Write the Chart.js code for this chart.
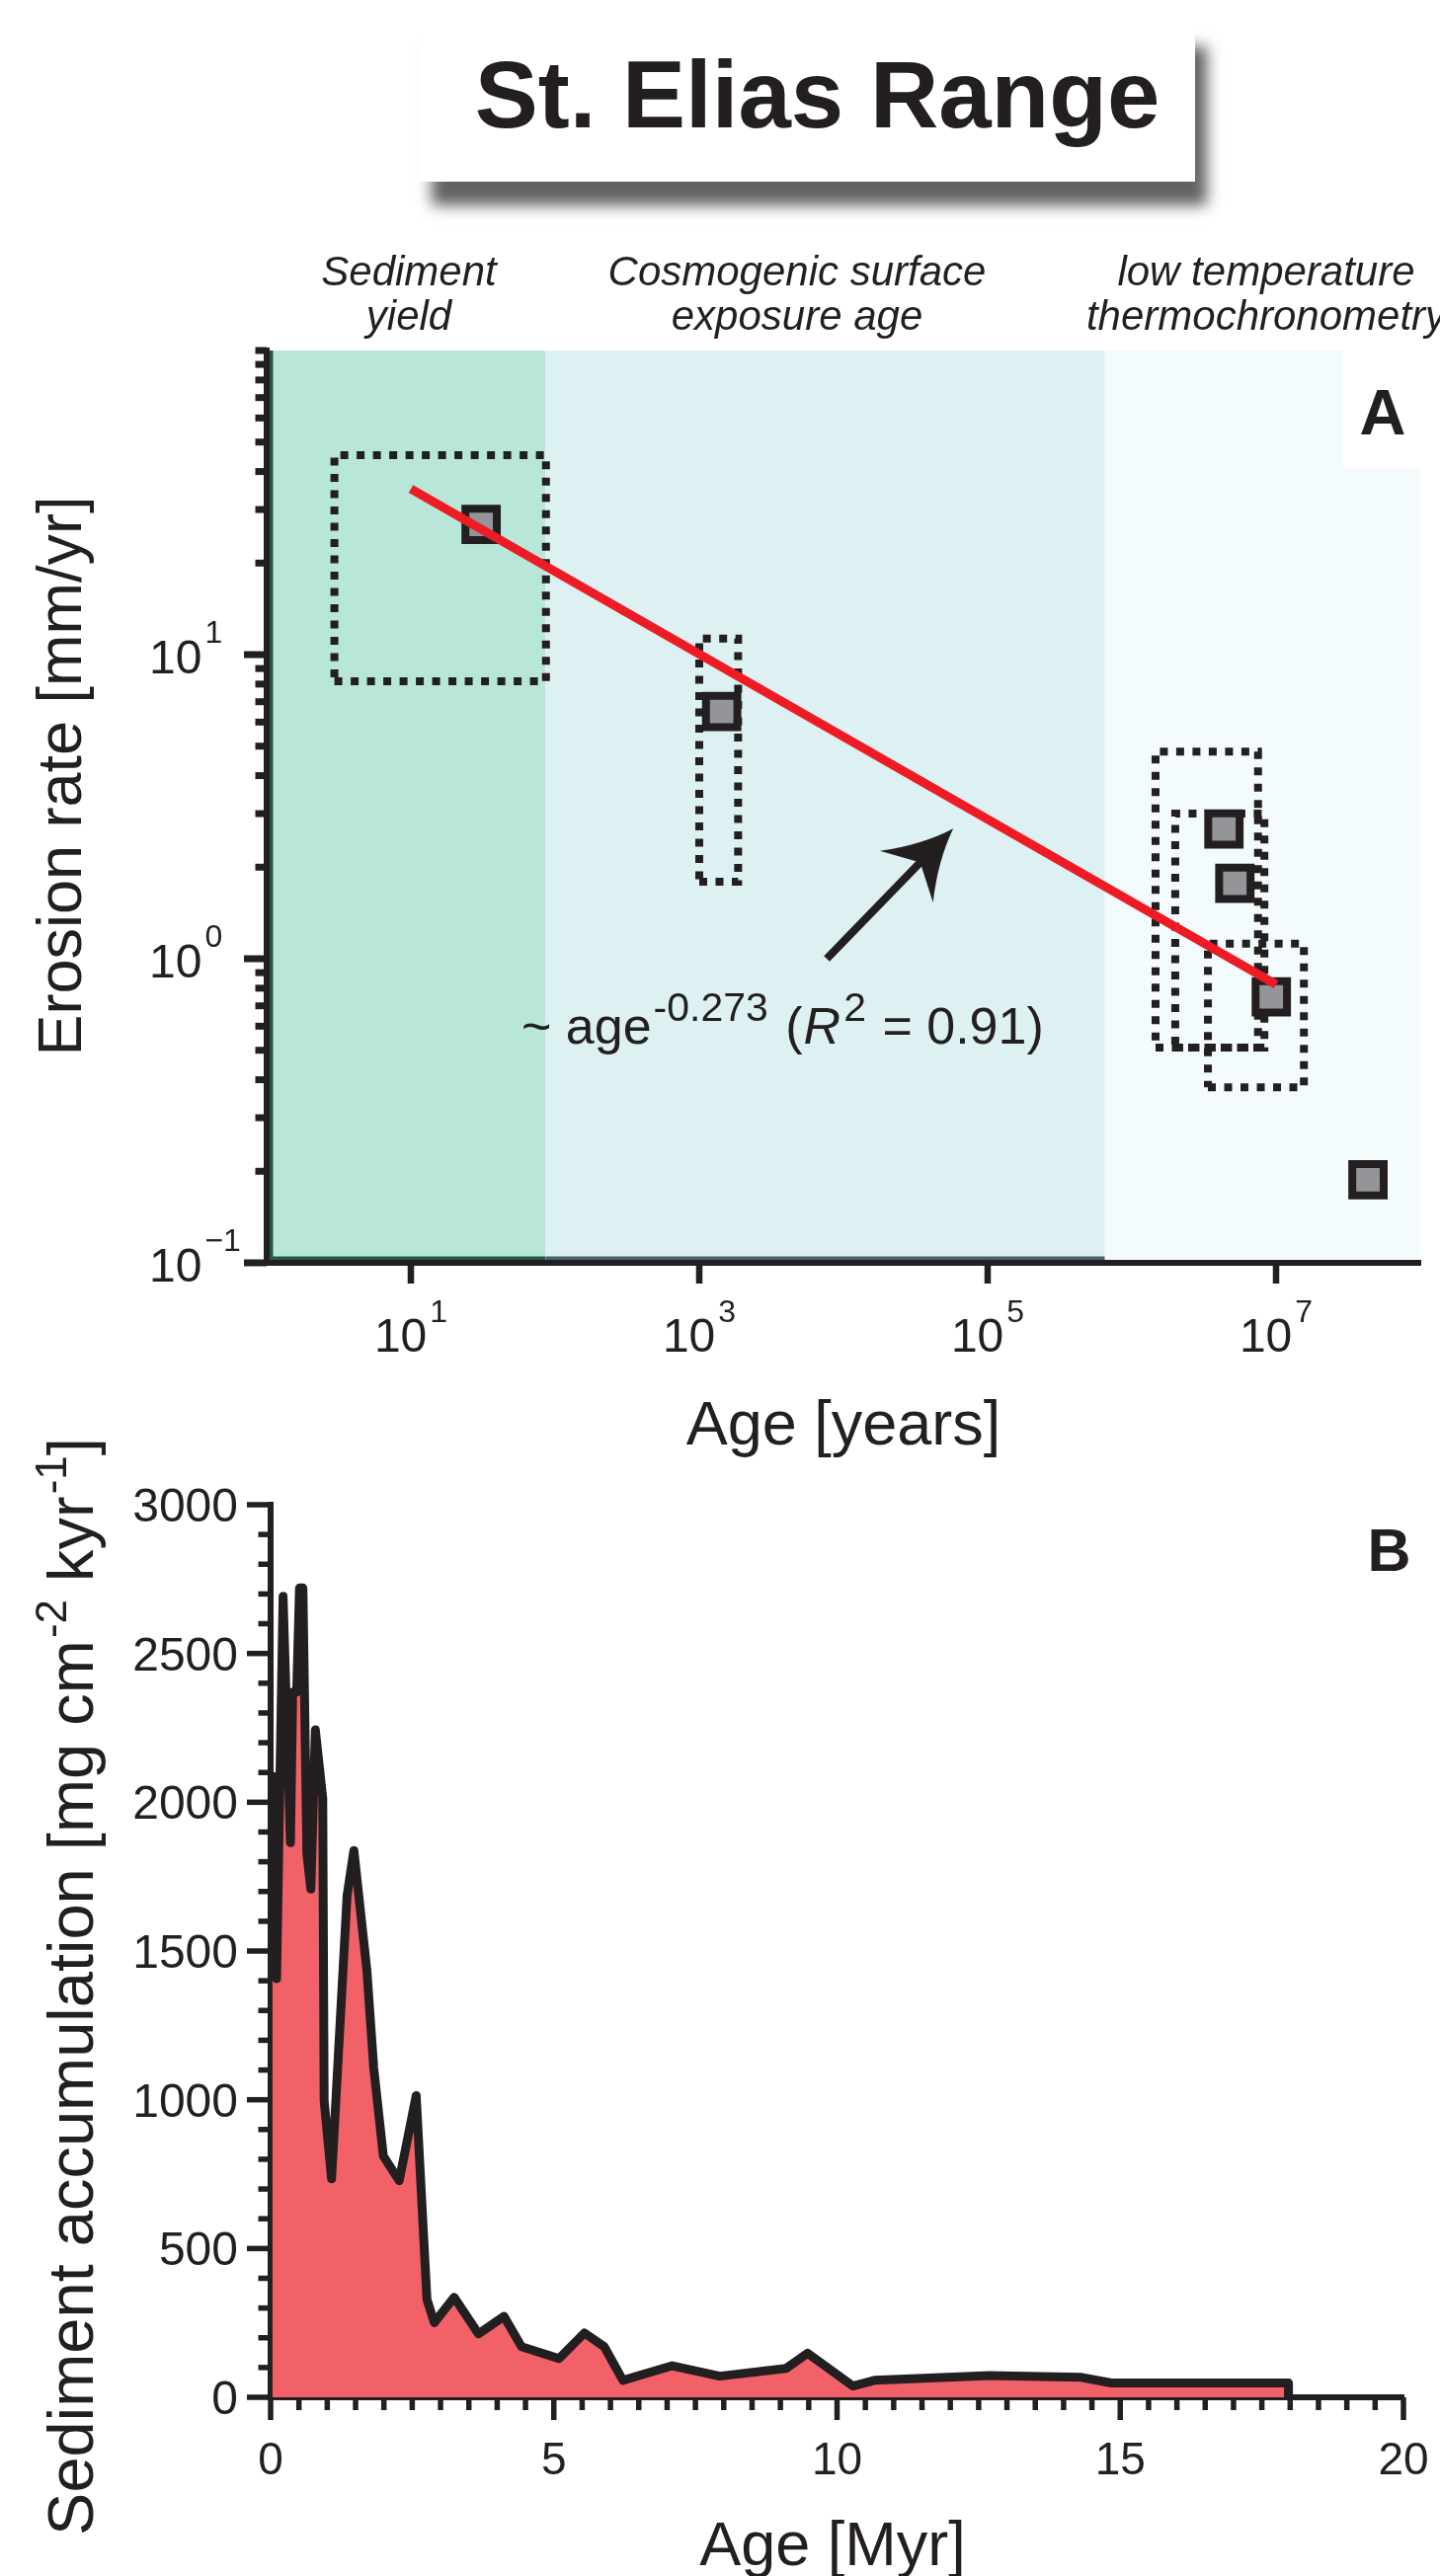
<!DOCTYPE html>
<html>
<head>
<meta charset="utf-8">
<script src="https://cdn.jsdelivr.net/npm/chart.js@4.4.1/dist/chart.umd.min.js"></script>
<style>
html,body{margin:0;padding:0;background:#fff;}
body{width:1458px;height:2609px;position:relative;overflow:hidden;font-family:"Liberation Sans",Arial,Helvetica,sans-serif;}
canvas{position:absolute;left:0;}
#cA{top:0;z-index:1;}
#cB{top:1380px;z-index:2;}
#titleBox{position:absolute;left:425px;top:23px;width:785px;height:161px;background:#fff;box-shadow:12px 24px 14px rgba(0,0,0,0.62);z-index:3;}
#titleBox span{position:absolute;left:20px;right:0;top:25px;text-align:center;font-weight:bold;font-size:96px;line-height:96px;color:#231f20;white-space:nowrap;}
</style>
</head>
<body>
<canvas id="cA" width="1458" height="1480"></canvas>
<canvas id="cB" width="1458" height="1229"></canvas>
<div id="titleBox"><span>St. Elias Range</span></div>
<script>
// ---------------- DATA (panel A) ----------------
const ageYears     = [30.7, 1430, 4.35e6, 5.18e6, 9.27e6, 4.34e7];
const erosionRate  = [26.8, 6.5, 2.67, 1.77, 0.749, 0.1875];
const boxAgeMin    = [2.95, 1000, 1.46e6, 2.0e6, 3.37e6];
const boxAgeMax    = [86.5, 1860, 7.5e6, 8.3e6, 1.56e7];
const boxRateMin   = [8.17, 1.79, 0.51, 0.51, 0.378];
const boxRateMax   = [45.3, 11.3, 4.8, 3.0, 1.12];
const fitAge       = [10, 1e7];
const fitRate      = [35.1, 0.823];
const bandEdges    = [1, 86, 6.5e5, 1e8];
const bandLabels   = [["Sediment","yield"],["Cosmogenic surface","exposure age"],["low temperature","thermochronometry"]];
const xTickExp     = [1, 3, 5, 7];
const yTickExp     = [-1, 0, 1];
const fitText      = ["~ age", "-0.273", " (", "R", "2", " = 0.91)"];
const arrowFrom    = [7660, 1.0];
const arrowTo      = [57700, 2.68];
const eqAnchor     = [58.5, 0.526];

// ---------------- DATA (panel B) ----------------
const ageMyr   = [0.03, 0.105, 0.22, 0.35, 0.39, 0.46, 0.51, 0.57, 0.64, 0.71, 0.79, 0.92, 0.945, 1.076, 1.35, 1.47, 1.70, 1.82, 1.99, 2.27, 2.42, 2.57, 2.76, 2.89, 3.24, 3.67, 4.12, 4.43, 5.09, 5.54, 5.89, 6.22, 7.09, 7.93, 9.10, 9.48, 10.28, 10.66, 12.69, 14.32, 14.84, 17.97, 17.97];
const sedAccum = [2101, 1407, 2692, 1864, 2370, 2370, 2720, 2720, 1828, 1708, 2243, 2014, 997, 734, 1686, 1838, 1434, 1108, 811, 728, 871, 1014, 329, 251, 336, 213, 272, 170, 130, 216, 170, 57, 106, 71, 97, 148, 38, 57, 73, 67, 48, 48, 0];
const bYTicks  = [0, 500, 1000, 1500, 2000, 2500, 3000];
const bXTicks  = [0, 5, 10, 15, 20];

// ---------------- STYLE ----------------
const INK = '#231f20';
const FAM = '"Liberation Sans", Arial, Helvetica, sans-serif';
const bandColors = ['#b8e6d8', '#ddf0f2', '#f4fbfd'];
const stripColors = ['#24594a', '#44646a', null];
const headerX = [414, 807, 1282];
function F(size, style){ return (style ? style + ' ' : '') + size + 'px ' + FAM; }
function line(ctx, x1, y1, x2, y2, w){
  ctx.beginPath(); ctx.moveTo(x1, y1); ctx.lineTo(x2, y2);
  ctx.lineWidth = w; ctx.strokeStyle = INK; ctx.lineCap = 'butt'; ctx.stroke();
}
function richWidth(ctx, pieces){
  let w = 0;
  for (const p of pieces){ ctx.font = F(p.size, p.style); w += (p.gap || 0) + ctx.measureText(p.t).width; }
  return w;
}
function drawRich(ctx, pieces, x, y){
  let cx = x;
  for (const p of pieces){
    ctx.font = F(p.size, p.style);
    cx += (p.gap || 0);
    ctx.fillText(p.t, cx, y + (p.dy || 0));
    cx += ctx.measureText(p.t).width;
  }
}

// ---------------- PANEL A ----------------
const boxDatasets = boxAgeMin.map((_, i) => ({
  type: 'scatter', showLine: true, order: 2,
  data: [
    {x: boxAgeMin[i], y: boxRateMin[i]}, {x: boxAgeMax[i], y: boxRateMin[i]},
    {x: boxAgeMax[i], y: boxRateMax[i]}, {x: boxAgeMin[i], y: boxRateMax[i]},
    {x: boxAgeMin[i], y: boxRateMin[i]}
  ],
  borderColor: INK, borderWidth: 8, borderDash: [8, 8.5], borderCapStyle: 'butt',
  pointRadius: 0, fill: false
}));

const panelA = {
  id: 'panelA',
  beforeDraw(chart){
    const {ctx, chartArea: a, scales: {x, y}} = chart;
    ctx.save();
    ctx.fillStyle = INK; ctx.textAlign = 'center'; ctx.textBaseline = 'alphabetic';
    ctx.font = F(42, 'italic');
    bandLabels.forEach((lines, i) => lines.forEach((t, j) => ctx.fillText(t, headerX[i], 289 + j * 45)));
    for (let i = 0; i < bandColors.length; i++){
      const x0 = x.getPixelForValue(bandEdges[i]), x1 = x.getPixelForValue(bandEdges[i + 1]);
      ctx.fillStyle = bandColors[i];
      ctx.fillRect(x0, a.top, x1 - x0, a.bottom - a.top);
      if (stripColors[i]){
        ctx.fillStyle = stripColors[i];
        ctx.fillRect(x0, a.bottom - 6.5, x1 - x0, 4);
      }
    }
    ctx.fillStyle = stripColors[0];
    ctx.fillRect(a.left, a.top, 6.5, a.bottom - a.top);
    ctx.fillStyle = '#fff';
    ctx.fillRect(a.right - 78, a.top, 78, 119);
    ctx.restore();
  },
  afterDraw(chart){
    const {ctx, chartArea: a, scales: {x, y}} = chart;
    ctx.save();
    ctx.fillStyle = INK;
    for (let e = -1; e <= 2; e++){
      const d = Math.pow(10, e);
      const py = y.getPixelForValue(d);
      line(ctx, a.left, py, a.left - (e < 2 ? 23 : 11.5), py, 7);
      if (e < 2) for (let k = 2; k <= 9; k++){
        const pm = y.getPixelForValue(k * d);
        line(ctx, a.left, pm, a.left - 11.5, pm, 7);
      }
    }
    xTickExp.forEach(e => { const px = x.getPixelForValue(Math.pow(10, e)); line(ctx, px, a.bottom, px, a.bottom + 21, 6.5); });
    ctx.textAlign = 'left'; ctx.textBaseline = 'alphabetic';
    yTickExp.forEach(e => {
      const py = y.getPixelForValue(Math.pow(10, e));
      ctx.font = F(48); ctx.fillText('10', 151, py + 19);
      const w = ctx.measureText('10').width;
      ctx.font = F(32); ctx.fillText(e < 0 ? '\u2212' + (-e) : String(e), 151 + w + 3, py - 12);
    });
    xTickExp.forEach(e => {
      const px = x.getPixelForValue(Math.pow(10, e));
      const pieces = [{t: '10', size: 48}, {t: String(e), size: 32, gap: 3, dy: -30}];
      const w = richWidth(ctx, pieces);
      drawRich(ctx, pieces, px - w / 2, a.bottom + 90);
    });
    ctx.font = F(63); ctx.textAlign = 'center';
    ctx.fillText('Age [years]', 854, a.bottom + 184);
    ctx.save();
    ctx.translate(82, 786); ctx.rotate(-Math.PI / 2);
    ctx.font = F(63); ctx.fillText('Erosion rate [mm/yr]', 0, 0);
    ctx.restore();
    ctx.font = F(65, 'bold'); ctx.textAlign = 'center';
    ctx.fillText('A', a.right - 38, a.top + 85);
    // arrow
    const tx = x.getPixelForValue(arrowFrom[0]), ty = y.getPixelForValue(arrowFrom[1]);
    const hx = x.getPixelForValue(arrowTo[0]), hy = y.getPixelForValue(arrowTo[1]);
    const L = Math.hypot(hx - tx, hy - ty), ux = (hx - tx) / L, uy = (hy - ty) / L, nx = -uy, ny = ux;
    const back = 68, lat = 37.5, notch = 48;
    line(ctx, tx, ty, hx - ux * notch, hy - uy * notch, 8);
    ctx.beginPath();
    ctx.moveTo(hx, hy);
    ctx.quadraticCurveTo(hx - ux * back * 0.5 + nx * lat * 0.3, hy - uy * back * 0.5 + ny * lat * 0.3, hx - ux * back + nx * lat, hy - uy * back + ny * lat);
    ctx.lineTo(hx - ux * notch, hy - uy * notch);
    ctx.lineTo(hx - ux * back - nx * lat, hy - uy * back - ny * lat);
    ctx.quadraticCurveTo(hx - ux * back * 0.5 - nx * lat * 0.3, hy - uy * back * 0.5 - ny * lat * 0.3, hx, hy);
    ctx.closePath(); ctx.fill();
    // fit equation
    const ex = x.getPixelForValue(eqAnchor[0]), ey = y.getPixelForValue(eqAnchor[1]);
    ctx.textAlign = 'left';
    const eqPieces = [
      {t: fitText[0], size: 52},
      {t: fitText[1], size: 41, gap: 2, dy: -23},
      {t: fitText[2], size: 52, gap: 3},
      {t: fitText[3], size: 52, style: 'italic', gap: 1},
      {t: fitText[4], size: 41, gap: 3, dy: -23},
      {t: fitText[5], size: 52, gap: 2}
    ];
    drawRich(ctx, eqPieces, ex, ey);
    ctx.restore();
  }
};

new Chart(document.getElementById('cA'), {
  type: 'scatter',
  data: {
    datasets: [
      { type: 'scatter', showLine: true, order: 0,
        data: fitAge.map((v, i) => ({x: v, y: fitRate[i]})),
        borderColor: '#ed1c24', borderWidth: 9, pointRadius: 0, borderCapStyle: 'butt', fill: false },
      { type: 'scatter', showLine: false, order: 1,
        data: ageYears.map((v, i) => ({x: v, y: erosionRate[i]})),
        pointStyle: 'rect', pointRadius: 22.5, pointBackgroundColor: '#939598',
        pointBorderColor: INK, pointBorderWidth: 8 },
      ...boxDatasets
    ]
  },
  options: {
    responsive: false, animation: false, devicePixelRatio: 1,
    layout: {autoPadding: false, padding: {left: 0, top: 355, right: 20, bottom: 0}},
    plugins: {legend: {display: false}, tooltip: {enabled: false}},
    scales: {
      x: {type: 'logarithmic', position: 'bottom', min: 1, max: 1e8,
          ticks: {display: false}, grid: {display: false, drawTicks: false},
          border: {display: true, width: 6, color: INK},
          afterFit(s){ s.height = 201; }},
      y: {type: 'logarithmic', position: 'left', min: 0.1, max: 100,
          ticks: {display: false}, grid: {display: false, drawTicks: false},
          border: {display: true, width: 6, color: INK},
          afterFit(s){ s.width = 270; }}
    }
  },
  plugins: [panelA]
});

// ---------------- PANEL B ----------------
const panelB = {
  id: 'panelB',
  afterDraw(chart){
    const {ctx, chartArea: a, scales: {x, y}} = chart;
    ctx.save();
    ctx.fillStyle = INK;
    for (let v = 0; v <= 3000; v += 100){
      const py = y.getPixelForValue(v);
      line(ctx, a.left, py, a.left - (v % 500 === 0 ? 24 : 12.5), py, 5.5);
    }
    for (let v = 0; v <= 20; v += 0.5){
      const px = x.getPixelForValue(v);
      line(ctx, px, a.bottom, px, a.bottom + (v % 5 === 0 ? 23 : 13), 5.5);
    }
    ctx.textBaseline = 'alphabetic';
    ctx.font = F(48); ctx.textAlign = 'right';
    bYTicks.forEach(v => ctx.fillText(String(v), a.left - 33, y.getPixelForValue(v) + 17));
    ctx.font = F(46); ctx.textAlign = 'center';
    bXTicks.forEach(v => ctx.fillText(String(v), x.getPixelForValue(v), a.bottom + 78));
    ctx.font = F(63);
    ctx.fillText('Age [Myr]', 843, a.bottom + 170);
    ctx.save();
    ctx.translate(94, 2012 - 1380); ctx.rotate(-Math.PI / 2);
    const pieces = [
      {t: 'Sediment accumulation [mg cm', size: 65},
      {t: '-2', size: 44, dy: -27, gap: 2},
      {t: ' kyr', size: 65},
      {t: '-1', size: 44, dy: -27, gap: 2},
      {t: ']', size: 65}
    ];
    ctx.textAlign = 'left';
    const w = richWidth(ctx, pieces);
    drawRich(ctx, pieces, -w / 2, 0);
    ctx.restore();
    ctx.font = F(61, 'bold'); ctx.textAlign = 'center';
    ctx.fillText('B', 1406.5, 1591 - 1380);
    ctx.restore();
  }
};

new Chart(document.getElementById('cB'), {
  type: 'line',
  data: {
    datasets: [{
      data: ageMyr.map((v, i) => ({x: v, y: sedAccum[i]})),
      borderColor: INK, borderWidth: 9, backgroundColor: '#f26168',
      fill: 'origin', pointRadius: 0, tension: 0, borderJoinStyle: 'round'
    }]
  },
  options: {
    responsive: false, animation: false, devicePixelRatio: 1,
    layout: {autoPadding: false, padding: {left: 0, top: 144, right: 37, bottom: 0}},
    plugins: {legend: {display: false}, tooltip: {enabled: false}},
    scales: {
      x: {type: 'linear', position: 'bottom', min: 0, max: 20,
          ticks: {display: false}, grid: {display: false, drawTicks: false},
          border: {display: true, width: 6, color: INK},
          afterFit(s){ s.height = 181; }},
      y: {type: 'linear', position: 'left', min: 0, max: 3000,
          ticks: {display: false}, grid: {display: false, drawTicks: false},
          border: {display: true, width: 6, color: INK},
          afterFit(s){ s.width = 274; }}
    }
  },
  plugins: [panelB]
});
</script>
</body>
</html>
